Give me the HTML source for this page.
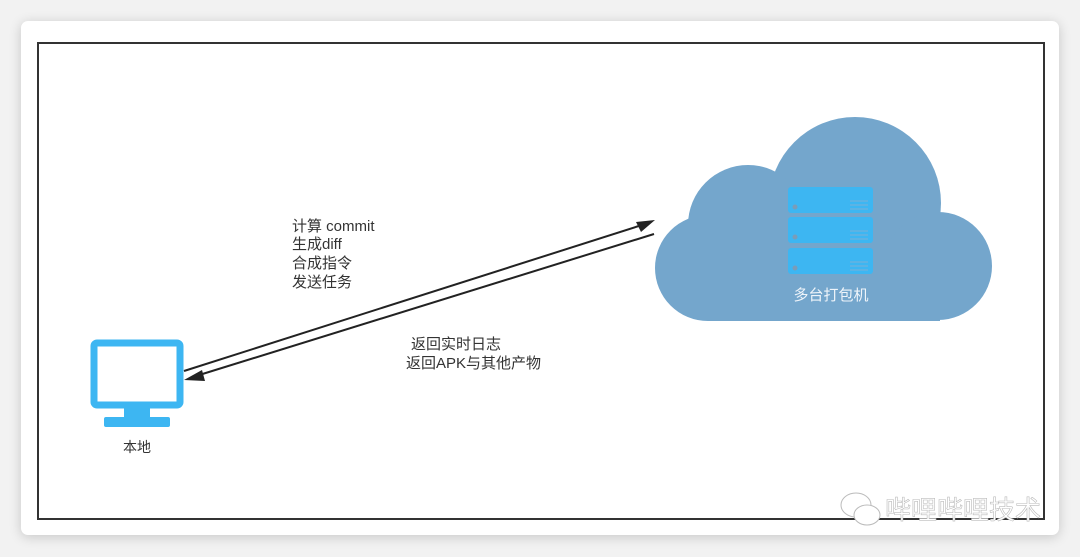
<!DOCTYPE html>
<html><head><meta charset="utf-8"><style>
html,body{margin:0;padding:0;width:1080px;height:557px;background:#f2f2f2;overflow:hidden}
.card{position:absolute;left:21px;top:21px;width:1038px;height:514px;background:#fff;border-radius:7px;box-shadow:0 2px 12px rgba(0,0,0,.18)}
svg{position:absolute;left:0;top:0}
text{font-family:"Liberation Sans","Noto Sans CJK SC",sans-serif}
</style></head><body>
<div class="card"></div>
<svg width="1080" height="557" viewBox="0 0 1080 557">
<rect x="38" y="43" width="1006" height="476" fill="none" stroke="#333" stroke-width="2"/>
<g fill="#74a6cc">
<circle cx="855" cy="203" r="86"/>
<circle cx="748" cy="225" r="60"/>
<circle cx="708" cy="268" r="53"/>
<circle cx="938" cy="266" r="54"/>
<rect x="708" y="250" width="232" height="71"/>
</g>
<g fill="#3db6f2">
<rect x="788" y="187" width="85" height="26" rx="3"/>
<rect x="788" y="217" width="85" height="26" rx="3"/>
<rect x="788" y="248" width="85" height="26" rx="3"/>
</g>
<g fill="#7a9cb8"><circle cx="795" cy="207" r="2.5"/><circle cx="795" cy="237" r="2.5"/><circle cx="795" cy="268" r="2.5"/></g>
<g stroke="#7ab0d6" stroke-width="1">
<path d="M850 201H868M850 205H868M850 209H868M850 231H868M850 235H868M850 239H868M850 262H868M850 266H868M850 270H868"/>
</g>
<text x="831" y="300" font-size="15" fill="#eef4fa" text-anchor="middle">多台打包机</text>
<rect x="94" y="343" width="86" height="62" rx="3" fill="#fff" stroke="#3db6f2" stroke-width="7"/>
<rect x="124" y="408" width="26" height="11" fill="#3db6f2"/>
<rect x="104" y="417" width="66" height="10" rx="2" fill="#3db6f2"/>
<text x="137" y="452" font-size="14" fill="#333" text-anchor="middle">本地</text>
<g stroke="#222" stroke-width="2">
<line x1="184" y1="371" x2="642" y2="225"/>
<line x1="654" y1="234" x2="196" y2="376"/>
</g>
<polygon points="655,220 636,222 641,232" fill="#222"/>
<polygon points="184,380 202,370 205,381" fill="#222"/>
<g font-size="15" fill="#333">
<text x="292" y="231">计算 commit</text>
<text x="292" y="249">生成diff</text>
<text x="292" y="268">合成指令</text>
<text x="292" y="287">发送任务</text>
<text x="411" y="349">返回实时日志</text>
<text x="406" y="368">返回APK与其他产物</text>
</g>
<text x="885" y="519" font-size="26" fill="#fff" stroke="#bbb" stroke-width="0.6">哔哩哔哩技术</text>
<g fill="#fff" stroke="#bbb" stroke-width="1"><ellipse cx="856" cy="505" rx="15" ry="12"/><ellipse cx="867" cy="515" rx="13" ry="10"/></g>
</svg>
</body></html>
